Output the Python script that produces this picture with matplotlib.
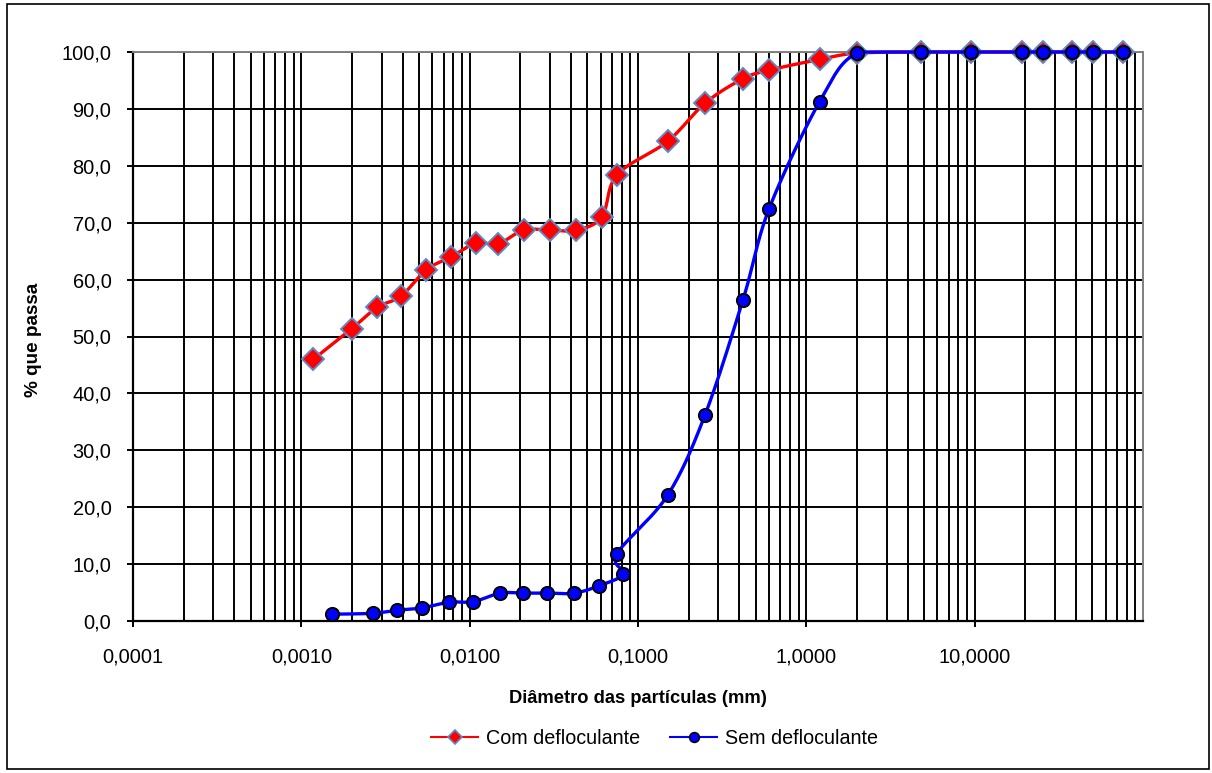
import numpy as np
import matplotlib
matplotlib.use("Agg")
import matplotlib.pyplot as plt
from matplotlib.patches import Rectangle
from matplotlib.ticker import FixedLocator, LogLocator, NullFormatter

plt.rcParams["font.family"] = ["Liberation Sans", "DejaVu Sans"]

# Ensaio com defloculante (sedimentação + peneiramento)
d_com = [0.00118, 0.00200, 0.00281, 0.00391, 0.00551, 0.00776, 0.0109, 0.0148,
         0.0209, 0.0299, 0.0429, 0.0610, 0.075, 0.15, 0.25, 0.42, 0.60, 1.2,
         2.0, 4.8, 9.5, 19.1, 25.4, 38.1, 50.8, 76.2]
p_com = [46.0, 51.4, 55.1, 57.1, 61.7, 64.0, 66.4, 66.3,
         68.7, 68.7, 68.7, 71.0, 78.4, 84.3, 91.0, 95.3, 96.8, 98.7,
         99.8, 100.0, 100.0, 100.0, 100.0, 100.0, 100.0, 100.0]

# Ensaio sem defloculante
d_sem = [0.00152, 0.00265, 0.00370, 0.00520, 0.00754, 0.0105, 0.0152, 0.0208,
         0.0289, 0.0417, 0.0588, 0.0820, 0.075, 0.15, 0.25, 0.42, 0.60, 1.2,
         2.0, 4.8, 9.5, 19.1, 25.4, 38.1, 50.8, 76.2]
p_sem = [1.2, 1.35, 1.9, 2.3, 3.3, 3.4, 4.9, 4.9,
         4.9, 4.9, 6.2, 8.3, 11.8, 22.1, 36.2, 56.4, 72.4, 91.3,
         99.8, 100.0, 100.0, 100.0, 100.0, 100.0, 100.0, 100.0]

x_ticks = [0.0001, 0.001, 0.01, 0.1, 1.0, 10.0]
x_tick_labels = ["0,0001", "0,0010", "0,0100", "0,1000", "1,0000", "10,0000"]
y_ticks = list(range(0, 101, 10))


def smooth(x, y, n=30):
    """Linha suavizada tipo Excel (Bezier Catmull-Rom em log x)."""
    pts = np.column_stack([np.log10(x), y])
    m = len(pts)
    t = np.linspace(0, 1, n)[:, None]
    seg = []
    for i in range(m - 1):
        p0 = pts[max(i - 1, 0)]
        p1 = pts[i]
        p2 = pts[i + 1]
        p3 = pts[min(i + 2, m - 1)]
        c1 = p1 + (p2 - p0) / 6.0
        c2 = p2 - (p3 - p1) / 6.0
        b = ((1 - t) ** 3) * p1 + 3 * ((1 - t) ** 2) * t * c1 \
            + 3 * (1 - t) * t ** 2 * c2 + t ** 3 * p2
        seg.append(b if i == 0 else b[1:])
    s = np.vstack(seg)
    # porcentagem passante nunca passa de 100
    return 10 ** s[:, 0], np.minimum(s[:, 1], 100.0)


fig = plt.figure(figsize=(12.12, 7.73), dpi=100)
fig.patch.set_facecolor("white")
ax = fig.add_axes([133 / 1212, 1 - 621 / 773, 1010 / 1212, 569 / 773])

ax.set_xscale("log")
ax.set_xlim(0.0001, 100)
ax.set_ylim(0, 100)

# grade
ax.xaxis.set_major_locator(FixedLocator(x_ticks))
ax.xaxis.set_minor_locator(LogLocator(base=10, subs=np.arange(2, 10), numticks=20))
ax.xaxis.set_minor_formatter(NullFormatter())
ax.set_xticklabels(x_tick_labels)
ax.set_yticks(y_ticks)
ax.set_yticklabels([f"{v:.1f}".replace(".", ",") for v in y_ticks])
ax.grid(True, which="both", axis="x", color="black", lw=1.4)
ax.grid(True, which="major", axis="y", color="black", lw=1.4)
ax.axvline(100, color="#808080", lw=1.4)
ax.set_axisbelow(True)

ax.tick_params(axis="x", which="major", direction="out", length=4, width=1.4,
               pad=15, labelsize=14.4)
ax.tick_params(axis="x", which="minor", length=0)
ax.tick_params(axis="y", direction="out", length=4, width=1.4, pad=11.5,
               labelsize=14.4)

for side in ("left", "bottom"):
    ax.spines[side].set_color("black")
    ax.spines[side].set_linewidth(1.6)
for side in ("top", "right"):
    ax.spines[side].set_color("#808080")
    ax.spines[side].set_linewidth(1.4)

xs, ys = smooth(d_com, p_com)
ax.plot(xs, ys, color="#FF0000", lw=2.4, zorder=3, clip_on=False)
ax.plot(d_com, p_com, ls="none", marker="D", ms=11, mfc="#FF0000",
        mec="#5B8BC6", mew=1.4, zorder=4, clip_on=False)

xs, ys = smooth(d_sem, p_sem)
ax.plot(xs, ys, color="#0000FF", lw=2.4, zorder=5, clip_on=False)
ax.plot(d_sem, p_sem, ls="none", marker="o", ms=9.5, mfc="#0000FF",
        mec="black", mew=1.4, zorder=6, clip_on=False)

ax.set_xlabel("Diâmetro das partículas (mm)", fontsize=13.2, fontweight="bold")
ax.xaxis.set_label_coords(0.5, -0.121)
ax.set_ylabel("% que passa", fontsize=13.6, fontweight="bold")
ax.yaxis.set_label_coords(-0.090, 0.494)

h_com, = ax.plot([], [], color="#FF0000", lw=1.5, marker="D", ms=7,
                 mfc="#FF0000", mec="#5B8BC6", mew=1.2)
h_sem, = ax.plot([], [], color="#0000FF", lw=1.5, marker="o", ms=7,
                 mfc="#0000FF", mec="black", mew=1.2)
fig.legend([h_com, h_sem], ["Com defloculante", "Sem defloculante"],
           loc="center", bbox_to_anchor=(0.540, 1 - 738 / 773), ncol=2,
           frameon=False, fontsize=14.2, handlelength=2.4, handletextpad=0.4,
           columnspacing=1.5)

# moldura externa
fig.patches.append(Rectangle((7 / 1212, 4 / 773), 1202 / 1212, 765 / 773,
                             transform=fig.transFigure, fill=False,
                             edgecolor="black", lw=1.2))

fig.savefig("out.png", dpi=100, facecolor="white")
